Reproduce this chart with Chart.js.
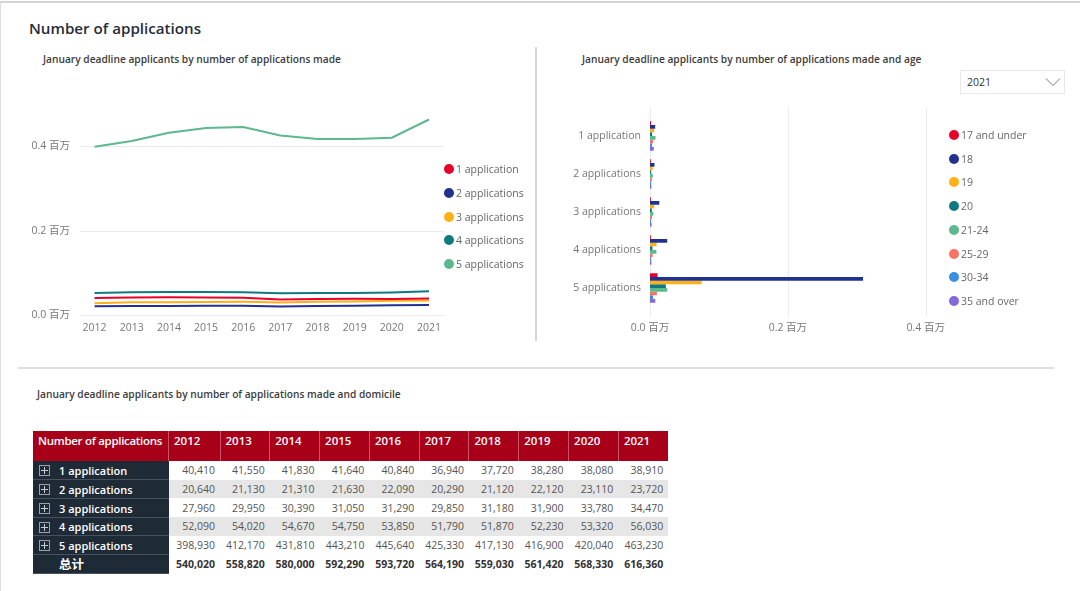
<!DOCTYPE html>
<html>
<head>
<meta charset="utf-8">
<script src="https://cdn.jsdelivr.net/npm/chart.js@4"></script>
<style>
html, body { margin: 0; padding: 0; background: #fff; }
body { width: 1080px; height: 591px; position: relative; overflow: hidden; font-family: "Open Sans", "Noto Sans CJK SC", sans-serif; }
.abs { position: absolute; }
.frame-top { left: 0; top: 1px; width: 1080px; height: 2px; background: #d4d4d4; }
.frame-left { left: 0; top: 1px; width: 1px; height: 590px; background: #dcdcdc; }
.divider-v { left: 535px; top: 47px; width: 2px; height: 294px; background: #d6d6d6; }
.divider-h { left: 18px; top: 367px; width: 1036px; height: 2px; background: #dedede; }
h1 { position: absolute; left: 29px; top: 17px; margin: 0; font-size: 15.15px; line-height: 22px; font-weight: 600; color: #252d3a; white-space: nowrap; }
.subtitle { position: absolute; font-size: 10.2px; line-height: 14px; font-weight: 600; color: #3c3c3c; white-space: nowrap; }
.legend { position: absolute; }
.legend div { position: absolute; left: 0; white-space: nowrap; font-size: 10.5px; line-height: 14px; color: #666; padding-left: 12px; }
.legend i { position: absolute; left: 0; top: 2px; width: 10px; height: 10px; border-radius: 50%; }
.slicer { left: 960px; top: 70px; width: 103px; height: 22px; border: 1px solid #e8e8e8; font-size: 10.5px; line-height: 22px; color: #333; text-indent: 6px; }
.slicer svg { position: absolute; right: 3px; top: 6px; }
canvas { position: absolute; }
table { position: absolute; left: 33px; top: 431px; border-collapse: collapse; table-layout: fixed; width: 635px; font-size: 10.5px; }
th { box-sizing: border-box; background: #a80019; color: #fff; height: 30px; padding: 0 0 10px 5px; line-height: 14px; text-align: left; font-size: 11.5px; font-weight: 600; border-left: 1px solid #c8566a; white-space: nowrap; overflow: hidden; }
th:first-child { border-left: none; letter-spacing: -0.3px; }
td { box-sizing: border-box; height: 18.7px; line-height: 14px; padding: 0 5px 0 0; text-align: right; color: #555; white-space: nowrap; }
tbody tr:nth-child(even) td { background: #e6e6e6; }
tbody tr td.row-head { background: #1f2a37; color: #fff; text-align: left; padding: 2px 0 0 26px; position: relative; font-size: 11px; font-weight: 600; border-bottom: 1px solid #46525f; }
td.row-head i { position: absolute; left: 6px; top: 4px; width: 9px; height: 9px; border: 1px solid #9aa3ad; }
td.row-head i:before { content: ""; position: absolute; left: 1px; top: 4px; width: 7px; height: 1px; background: #c6ccd2; }
td.row-head i:after { content: ""; position: absolute; left: 4px; top: 1px; width: 1px; height: 7px; background: #c6ccd2; }
tbody tr.total td { font-weight: 700; color: #333; background: #fff; }
tbody tr.total td.row-head { background: #1f2a37; color: #fff; font-size: 12.5px; }
</style>
</head>
<body>
<div class="abs frame-top"></div>
<div class="abs frame-left"></div>
<div class="abs divider-v"></div>
<div class="abs divider-h"></div>

<h1>Number of applications</h1>
<div class="subtitle" style="left:43px;top:52px">January deadline applicants by number of applications made</div>
<div class="subtitle" style="left:582px;top:52px">January deadline applicants by number of applications made and age</div>
<div class="subtitle" style="left:37px;top:387px">January deadline applicants by number of applications made and domicile</div>

<div class="abs slicer">2021
  <svg width="16" height="10" viewBox="0 0 16 10"><path d="M1 1.5 L8 8.5 L15 1.5" fill="none" stroke="#777" stroke-width="1"/></svg>
</div>

<canvas id="lineChart" style="left:0;top:90px;width:448px;height:250px" width="448" height="250"></canvas>
<div class="legend" id="lineLegend" style="left:444px;top:162px"></div>

<canvas id="barChart" style="left:540px;top:97px;width:420px;height:244px" width="420" height="244"></canvas>
<div class="legend" id="barLegend" style="left:949px;top:128px"></div>

<table id="dataTable"></table>

<script>
const years = ["2012", "2013", "2014", "2015", "2016", "2017", "2018", "2019", "2020", "2021"];
const applicationLabels = ["1 application", "2 applications", "3 applications", "4 applications", "5 applications"];
const applicationColors = ["#e8002b", "#20318f", "#ffb014", "#0e7a80", "#5cb88d"];
const lineTicks = [0, 200000, 400000];

const oneApplication = [40410, 41550, 41830, 41640, 40840, 36940, 37720, 38280, 38080, 38910];
const twoApplications = [20640, 21130, 21310, 21630, 22090, 20290, 21120, 22120, 23110, 23720];
const threeApplications = [27960, 29950, 30390, 31050, 31290, 29850, 31180, 31900, 33780, 34470];
const fourApplications = [52090, 54020, 54670, 54750, 53850, 51790, 51870, 52230, 53320, 56030];
const fiveApplications = [398930, 412170, 431810, 443210, 445640, 425330, 417130, 416900, 420040, 463230];
const totals = [540020, 558820, 580000, 592290, 593720, 564190, 559030, 561420, 568330, 616360];
const applicationSeries = [oneApplication, twoApplications, threeApplications, fourApplications, fiveApplications];

const ageLabels = ["17 and under", "18", "19", "20", "21-24", "25-29", "30-34", "35 and over"];
const ageColors = ["#e8002b", "#20318f", "#ffb014", "#0e7a80", "#5cb88d", "#fb7263", "#3a8fde", "#8566db"];
const ageUnder17 = [1500, 1200, 1200, 1200, 11000];
const age18 = [7500, 6500, 13500, 25000, 309000];
const age19 = [6000, 3800, 6000, 9500, 75000];
const age20 = [3000, 1800, 2700, 3600, 23000];
const age21to24 = [8000, 4000, 4800, 9300, 25000];
const age25to29 = [4500, 2700, 2800, 3800, 10000];
const age30to34 = [3000, 1700, 1500, 1600, 4500];
const age35over = [5500, 2000, 2300, 2000, 7700];
const ageSeries = [ageUnder17, age18, age19, age20, age21to24, age25to29, age30to34, age35over];

const tickFont = { family: '"Open Sans", "Noto Sans CJK SC", sans-serif', size: 10.5 };
const tickColor = "#777";
const gridColor = "#ececec";

function millions(value) {
    return (value / 1000000).toFixed(1) + " 百万";
}

// Power BI style legend next to the plot
function buildLegend(id, labels, colors, pitch) {
    const box = document.getElementById(id);
    labels.forEach(function (label, i) {
        const item = document.createElement("div");
        item.style.top = (i * pitch) + "px";
        item.innerHTML = '<i style="background:' + colors[i] + '"></i>' + label;
        box.appendChild(item);
    });
}
buildLegend("lineLegend", applicationLabels, applicationColors, 23.8);
buildLegend("barLegend", ageLabels, ageColors, 23.7);

// Value gridlines, which stop short of the plot sides on the line chart
const insetGridlines = {
    id: "insetGridlines",
    beforeDatasetsDraw: function (chart) {
        const ctx = chart.ctx;
        const area = chart.chartArea;
        ctx.save();
        ctx.strokeStyle = gridColor;
        ctx.lineWidth = 1;
        chart.scales.y.ticks.forEach(function (tick) {
            const y = Math.round(chart.scales.y.getPixelForValue(tick.value)) + 0.5;
            ctx.beginPath();
            ctx.moveTo(area.left + 4, y);
            ctx.lineTo(area.right - 4, y);
            ctx.stroke();
        });
        ctx.restore();
    }
};

// Line chart
new Chart("lineChart", {
    type: "line",
    plugins: [insetGridlines],
    data: {
        labels: years,
        datasets: applicationSeries.map(function (values, i) {
            return { label: applicationLabels[i], data: values, borderColor: applicationColors[i], borderWidth: 2, pointRadius: 0, fill: false, tension: 0 };
        })
    },
    options: {
        responsive: false,
        animation: false,
        layout: { padding: { top: 14 } },
        plugins: { legend: { display: false } },
        scales: {
            x: {
                offset: true,
                grid: { display: false, drawTicks: false },
                border: { display: false },
                ticks: { font: tickFont, color: tickColor, padding: 7, maxRotation: 0, autoSkip: false },
                afterFit: function (axis) { axis.height = 25; }
            },
            y: {
                min: 0,
                max: 500000,
                grid: { display: false, drawTicks: false },
                border: { display: false },
                ticks: { font: tickFont, color: tickColor, padding: 6, callback: millions },
                afterBuildTicks: function (axis) {
                    axis.ticks = lineTicks.map(function (value) { return { value: value }; });
                },
                afterFit: function (axis) { axis.width = 76; }
            }
        }
    }
});

// The value gridlines run a little past the category bands
const longGridlines = {
    id: "longGridlines",
    beforeDatasetsDraw: function (chart) {
        const ctx = chart.ctx;
        const area = chart.chartArea;
        ctx.save();
        ctx.strokeStyle = gridColor;
        ctx.lineWidth = 1;
        chart.scales.x.ticks.forEach(function (tick) {
            const x = Math.round(chart.scales.x.getPixelForValue(tick.value)) + 0.5;
            ctx.beginPath();
            ctx.moveTo(x, area.top - 10);
            ctx.lineTo(x, area.bottom + 10);
            ctx.stroke();
        });
        ctx.restore();
    }
};

// Bar chart
new Chart("barChart", {
    type: "bar",
    plugins: [longGridlines],
    data: {
        labels: applicationLabels,
        datasets: ageSeries.map(function (values, i) {
            return { label: ageLabels[i], data: values, backgroundColor: ageColors[i], categoryPercentage: 0.77, barPercentage: 1 };
        })
    },
    options: {
        responsive: false,
        animation: false,
        indexAxis: "y",
        layout: { padding: { top: 20, right: 31 } },
        plugins: { legend: { display: false } },
        scales: {
            x: {
                min: 0,
                max: 400000,
                grid: { display: false, drawTicks: false },
                border: { display: false },
                ticks: { stepSize: 200000, font: tickFont, color: tickColor, padding: 15, maxRotation: 0, callback: millions },
                afterFit: function (axis) { axis.height = 34; }
            },
            y: {
                grid: { display: false, drawTicks: false },
                border: { display: false },
                ticks: { font: tickFont, color: tickColor, padding: 9 },
                afterFit: function (axis) { axis.width = 110; }
            }
        }
    }
});

// Table
function number(value) {
    return value.toLocaleString("en-US");
}
let html = '<colgroup><col style="width:135.5px"><col style="width:51.5px">';
for (let i = 1; i < years.length; i++) html += '<col style="width:49.8px">';
html += '</colgroup><thead><tr><th>Number of applications</th>';
years.forEach(function (year) { html += "<th>" + year + "</th>"; });
html += "</tr></thead><tbody>";
applicationSeries.forEach(function (values, r) {
    html += '<tr><td class="row-head"><i></i>' + applicationLabels[r] + "</td>";
    values.forEach(function (value) { html += "<td>" + number(value) + "</td>"; });
    html += "</tr>";
});
html += '<tr class="total"><td class="row-head">总计</td>';
totals.forEach(function (value) { html += "<td>" + number(value) + "</td>"; });
html += "</tr></tbody>";
document.getElementById("dataTable").innerHTML = html;
</script>
</body>
</html>
